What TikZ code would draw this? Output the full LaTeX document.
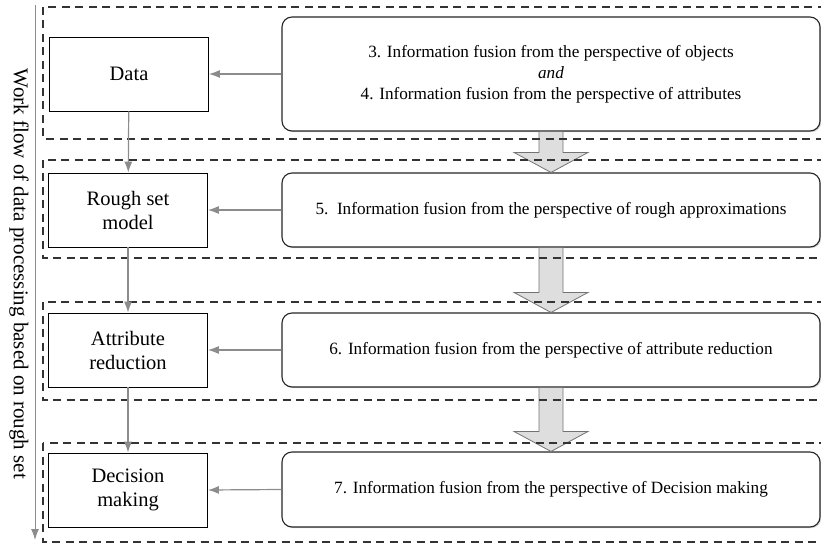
\documentclass[tikz,border=0pt]{standalone}
\usepackage{fontspec}
\setmainfont{Liberation Serif}
\usetikzlibrary{arrows.meta,shadows}

\tikzset{stage/.style={draw, line width=0.8pt, minimum width=159pt, minimum height=74pt,
           align=center, font=\fontsize{20.5}{24}\selectfont},
         fusion/.style={draw=black!85, fill=white, line width=1.1pt, rounded corners=10pt,
           minimum width=538pt, align=center, font=\fontsize{17.2}{21}\selectfont,
           drop shadow={shadow xshift=1.2pt, shadow yshift=-1.2pt, opacity=0.35}},
         flow/.style={draw=black!45, line width=1.2pt, -{Latex[length=11pt,width=8pt]}},
         layer/.style={draw=black!80, dash pattern=on 8pt off 5.5pt, line width=1.2pt},
         blockarrow/.style={draw=black!55, fill=black!13, line width=0.8pt}}

\begin{document}
\begin{tikzpicture}[
    x = 1pt, y = -1pt,
    every node/.style = {inner sep = 2pt}
  ]
  \useasboundingbox (0,0) rectangle (821,545);

  % work flow on the left
  \node[stage] (data)   at (129,74)  {Data};
  \node[stage] (rough)  at (128,210) {Rough set\\model};
  \node[stage] (reduct) at (128,350) {Attribute\\reduction};
  \node[stage] (decide) at (128,490) {Decision\\making};

  % fusion steps on the right
  \node[fusion, minimum height=114pt] (fuse1) at (551,74)
    {3. Information fusion from the perspective of objects\\
     \textit{and}\\
     4. Information fusion from the perspective of attributes};
  \node[fusion, minimum height=74pt] (fuse2) at (551,210)
    {5.\ \ Information fusion from the perspective of rough approximations};
  \node[fusion, minimum height=74pt] (fuse3) at (551,350)
    {6. Information fusion from the perspective of attribute reduction};
  \node[fusion, minimum height=75pt] (fuse4) at (551,489.5)
    {7. Information fusion from the perspective of Decision making};

  % block arrows between the fusion steps
  \foreach \a/\b in {fuse1/fuse2, fuse2/fuse3, fuse3/fuse4}
    \draw[blockarrow] ([xshift=-12pt]\a.south) -- ([xshift=-12pt,yshift=20pt]\b.north)
      -- ([xshift=-37pt,yshift=20pt]\b.north) -- (\b.north)
      -- ([xshift=37pt,yshift=20pt]\b.north) -- ([xshift=12pt,yshift=20pt]\b.north)
      -- ([xshift=12pt]\a.south) -- cycle;

  % dashed layers
  \draw[layer] (43,7)   rectangle (822,139);
  \draw[layer] (43,160) rectangle (822,258);
  \draw[layer] (43,302) rectangle (822,400);
  \draw[layer] (43,443) rectangle (822,542);

  \draw[flow] (fuse1.west) -- (data.east);
  \draw[flow] (fuse2.west) -- (rough.east);
  \draw[flow] (fuse3.west) -- (reduct.east);
  \draw[flow] (fuse4.west) -- (decide.east);

  \draw[flow] (data) -- (rough);
  \draw[flow] (rough) -- (reduct);
  \draw[flow] (reduct) -- (decide);

  \coordinate (top) at (35,5);
  \coordinate (bottom) at (35,540);
  \draw[flow, line width=1pt] (top) -- (bottom);
  \node[rotate=-90, font=\fontsize{21}{24}\selectfont] (workflow) at (19,274)
    {Work flow of data processing based on rough set};
\end{tikzpicture}
\end{document}
